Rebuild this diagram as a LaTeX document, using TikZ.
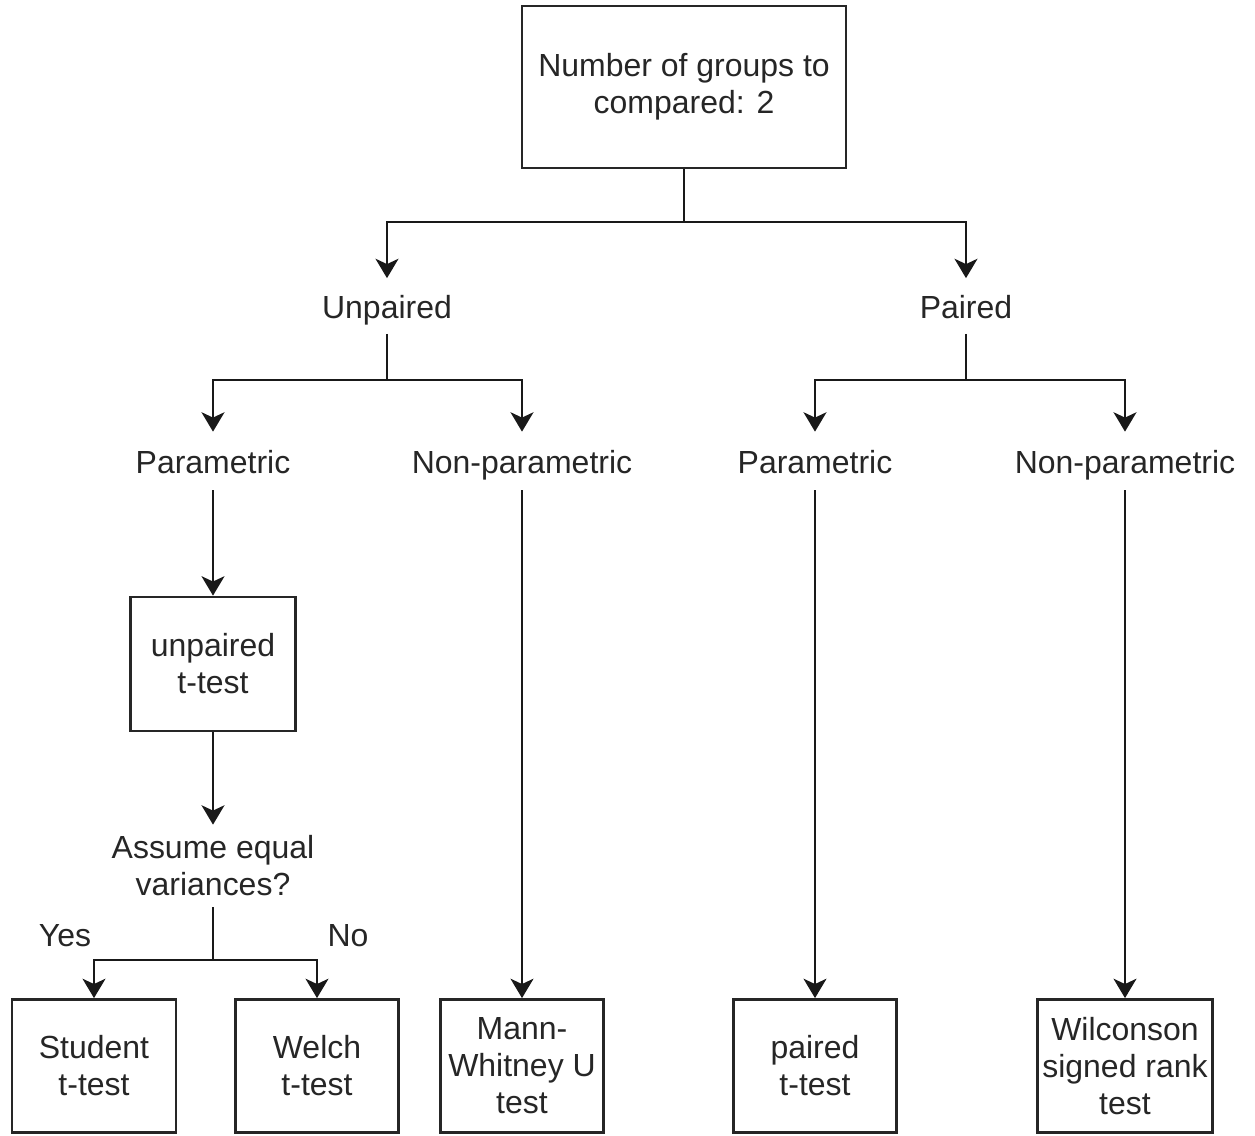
\documentclass[tikz,border=0pt]{standalone}
\usepackage{fontspec}
\setmainfont{Liberation Sans}
\usetikzlibrary{arrows.meta}
\newcommand\dfont{\fontsize{18.2}{21}\selectfont}
\begin{document}
\begin{tikzpicture}[x=0.02cm,y=-0.02cm]
\tikzset{
 conn/.style={line width=1.6pt, draw=black!90},
 arr/.style={conn, -{Stealth[length=11pt,width=13pt,inset=3pt]}},
 box/.style={draw=black!85, line width=1.6pt, align=center, inner sep=0pt, font=\dfont, text=black!85},
 lbl/.style={align=center, inner sep=0pt, font=\dfont, text=black!85},
 oneline/.style={text height=16pt, text depth=2pt},
}
\useasboundingbox (0,0) rectangle (1255,1136);
% nodes
\node[box, minimum width=6.48cm, minimum height=3.24cm] (top) at (684,87) {Number of groups to\\compared: 2};
\node[lbl, oneline, minimum height=1.1cm] (unp) at (387,306) {Unpaired};
\node[lbl, oneline, minimum height=1.1cm] (pai) at (966,306) {Paired};
\node[lbl, oneline, minimum height=1.16cm] (upar) at (213,461) {Parametric};
\node[lbl, oneline, minimum height=1.16cm] (unon) at (522,461) {Non-parametric};
\node[lbl, oneline, minimum height=1.16cm] (ppar) at (815,461) {Parametric};
\node[lbl, oneline, minimum height=1.16cm] (pnon) at (1125,461) {Non-parametric};
\node[box, minimum width=3.3cm, minimum height=2.68cm] (utt) at (213,664) {unpaired\\t-test};
\node[lbl, minimum height=1.64cm] (ass) at (213,866) {Assume equal\\variances?};
\node[lbl, oneline] (yes) at (65,934) {Yes};
\node[lbl, oneline] (no) at (348,934) {No};
\node[box, minimum width=3.28cm, minimum height=2.66cm] (stu) at (94,1066) {Student\\t-test};
\node[box, minimum width=3.26cm, minimum height=2.66cm] (wel) at (317,1066) {Welch\\t-test};
\node[box, minimum width=3.26cm, minimum height=2.66cm] (mw) at (522,1066) {Mann-\\Whitney U\\test};
\node[box, minimum width=3.26cm, minimum height=2.66cm] (ptt) at (815,1066) {paired\\t-test};
\node[box, minimum width=3.5cm, minimum height=2.66cm] (wil) at (1125,1066) {Wilconson\\signed rank\\test};
% junctions
\coordinate (j1) at (684,222);
\coordinate (j2) at (387,380);
\coordinate (j3) at (966,380);
\coordinate (j4) at (213,960);
% connectors
\draw[conn] (top.south) -- (j1);
\draw[arr] (j1) -| (unp.north);
\draw[arr] (j1) -| (pai.north);
\draw[conn] (unp.south) -- (j2);
\draw[arr] (j2) -| (upar.north);
\draw[arr] (j2) -| (unon.north);
\draw[conn] (pai.south) -- (j3);
\draw[arr] (j3) -| (ppar.north);
\draw[arr] (j3) -| (pnon.north);
\draw[arr] (upar.south) -- (utt.north);
\draw[arr] (utt.south) -- (ass.north);
\draw[conn] (ass.south) -- (j4);
\draw[arr] (j4) -| (stu.north);
\draw[arr] (j4) -| (wel.north);
\draw[arr] (unon.south) -- (mw.north);
\draw[arr] (ppar.south) -- (ptt.north);
\draw[arr] (pnon.south) -- (wil.north);
\end{tikzpicture}
\end{document}
